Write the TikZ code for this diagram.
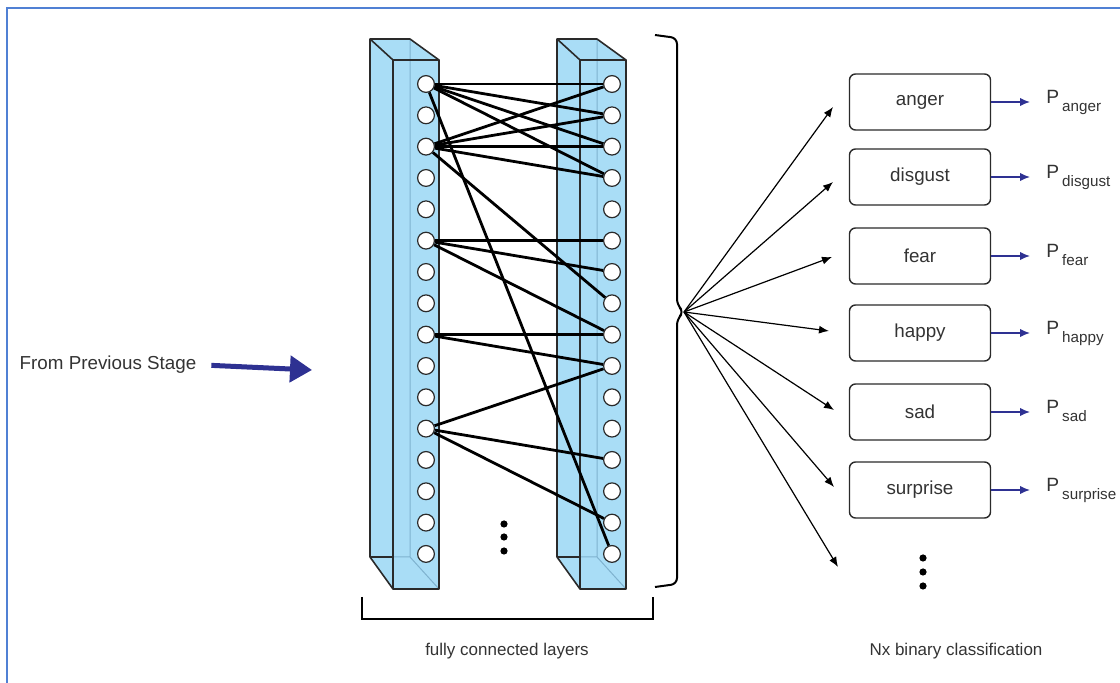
\documentclass[tikz,border=0pt]{standalone}
\usepackage{fontspec}
\setmainfont{Liberation Sans}
\usetikzlibrary{arrows.meta,positioning}

\definecolor{layerblue}{HTML}{A9DDF6}
\definecolor{hiddenedge}{HTML}{7FB2CF}
\definecolor{framebl}{HTML}{5080D4}
\definecolor{navy}{HTML}{2E3192}
\definecolor{edgegray}{HTML}{2A2A2A}
\definecolor{txtgray}{HTML}{333333}

% one fully connected layer drawn as a see-through slab
\newcommand{\fcslab}[1]{%
  \begin{scope}[shift={(#1,0)}]
    \fill[layerblue] (370,39) -- (410,39) -- (439,60) -- (439,589) -- (393,589) -- (370,557) -- cycle;
    % edges seen through the front face
    \draw[hiddenedge, line width=0.5pt] (410,39) -- (410,557) -- (393,557) (410,557) -- (439,589);
    \draw[edgegray, line width=0.8pt, line join=round] (370,39) -- (410,39) -- (439,60) -- (439,589) -- (393,589) -- (370,557) -- cycle;
    \draw[edgegray, line width=0.8pt, line join=round] (370,39) -- (393,60) -- (439,60) (393,60) -- (393,589) (370,557) -- (393,557);
  \end{scope}}

\begin{document}
\begin{tikzpicture}[x=0.5pt, y=-0.5pt,
    neuron/.style={circle, draw=edgegray, fill=white, line width=0.6pt, minimum size=8.4pt, inner sep=0pt},
    link/.style={line width=1.4pt, black},
    emobox/.style={draw=edgegray, rounded corners=3pt, line width=0.7pt, minimum width=70.5pt, minimum height=28pt, text=txtgray, font=\fontsize{9.4}{11}\selectfont},
    fan/.style={-{Latex[length=5pt,width=4pt]}, line width=0.6pt, black},
    prob/.style={-{Latex[length=5pt,width=4.2pt]}, navy, line width=0.7pt, shorten >=8pt},
    plabel/.style={inner sep=0pt, text=txtgray, font=\fontsize{9.6}{11}\selectfont},
    caption/.style={text=txtgray, font=\fontsize{8.5}{10}\selectfont},
    dot/.style={circle, fill=black, inner sep=0pt, minimum size=3.6pt}]

  \useasboundingbox (0,0) rectangle (1120,683);
  % frame
  \draw[framebl, line width=1pt] (7,683) -- (7,8) -- (1120,8);

  % input
  \node[text=txtgray, font=\fontsize{9.4}{11}\selectfont] (prev) at (108,365) {From Previous Stage};
  \coordinate (inlet) at (312,370);
  \draw[navy, line width=2.5pt, shorten <=4pt, -{Triangle[length=11pt,width=13pt]}] (prev.east) -- (inlet);

  % the two layers
  \fcslab{0}
  \fcslab{187}

  % neurons
  \foreach \i in {0,...,15} {
    \node[neuron] (l\i) at (426,{84+31.33*\i}) {};
    \node[neuron] (r\i) at (612,{84+31.33*\i}) {};
  }

  % some of the weights
  \foreach \a/\b in {0/0,0/1,0/2,0/3,0/15,2/0,2/1,2/2,2/3,2/7,5/5,5/6,5/8,8/8,8/9,11/9,11/12,11/14}
    \draw[link] (l\a) -- (r\b);

  % more neurons
  \node[dot] (md1) at (504,524) {};
  \node[dot] (md2) at (504,537) {};
  \node[dot] (md3) at (504,551) {};

  % braces
  \draw[line width=1pt, rounded corners=3pt] (655,35) -- (677,38) -- (677,305) -- (684,312) -- (677,319) -- (677,584) -- (655,587);
  \coordinate (tip) at (684,312);
  \draw[line width=1pt] (362,597) -- (362,619) -- (653,619) -- (653,597);

  % fan out to the classifiers
  \foreach \n/\x/\y in {1/833/107, 2/833/182, 3/832/257, 4/829/331, 5/834/410, 6/834/487, 7/838/567} {
    \coordinate (f\n) at (\x,\y);
    \draw[fan] (tip) -- (f\n);
  }

  % one binary classifier per emotion
  \foreach \emo/\y in {anger/102, disgust/177, fear/256, happy/333, sad/412, surprise/490} {
    \node[emobox] (\emo) at (920,\y) {\emo};
    \node[plabel, anchor=base west] (p\emo) at (1046,\y+2) {P\hspace{1.5pt}\raisebox{-3.8pt}{\fontsize{7.6}{9}\selectfont\emo}};
    \draw[prob] (\emo.east) -- (\emo.east -| p\emo.west);
  }

  \node[dot] (cd1) at (923,558) {};
  \node[dot] (cd2) at (923,572) {};
  \node[dot] (cd3) at (923,586) {};

  % captions
  \node[caption] (fclabel) at (507,651) {fully connected layers};
  \node[caption] (nxlabel) at (956,651) {Nx binary classification};
\end{tikzpicture}
\end{document}
